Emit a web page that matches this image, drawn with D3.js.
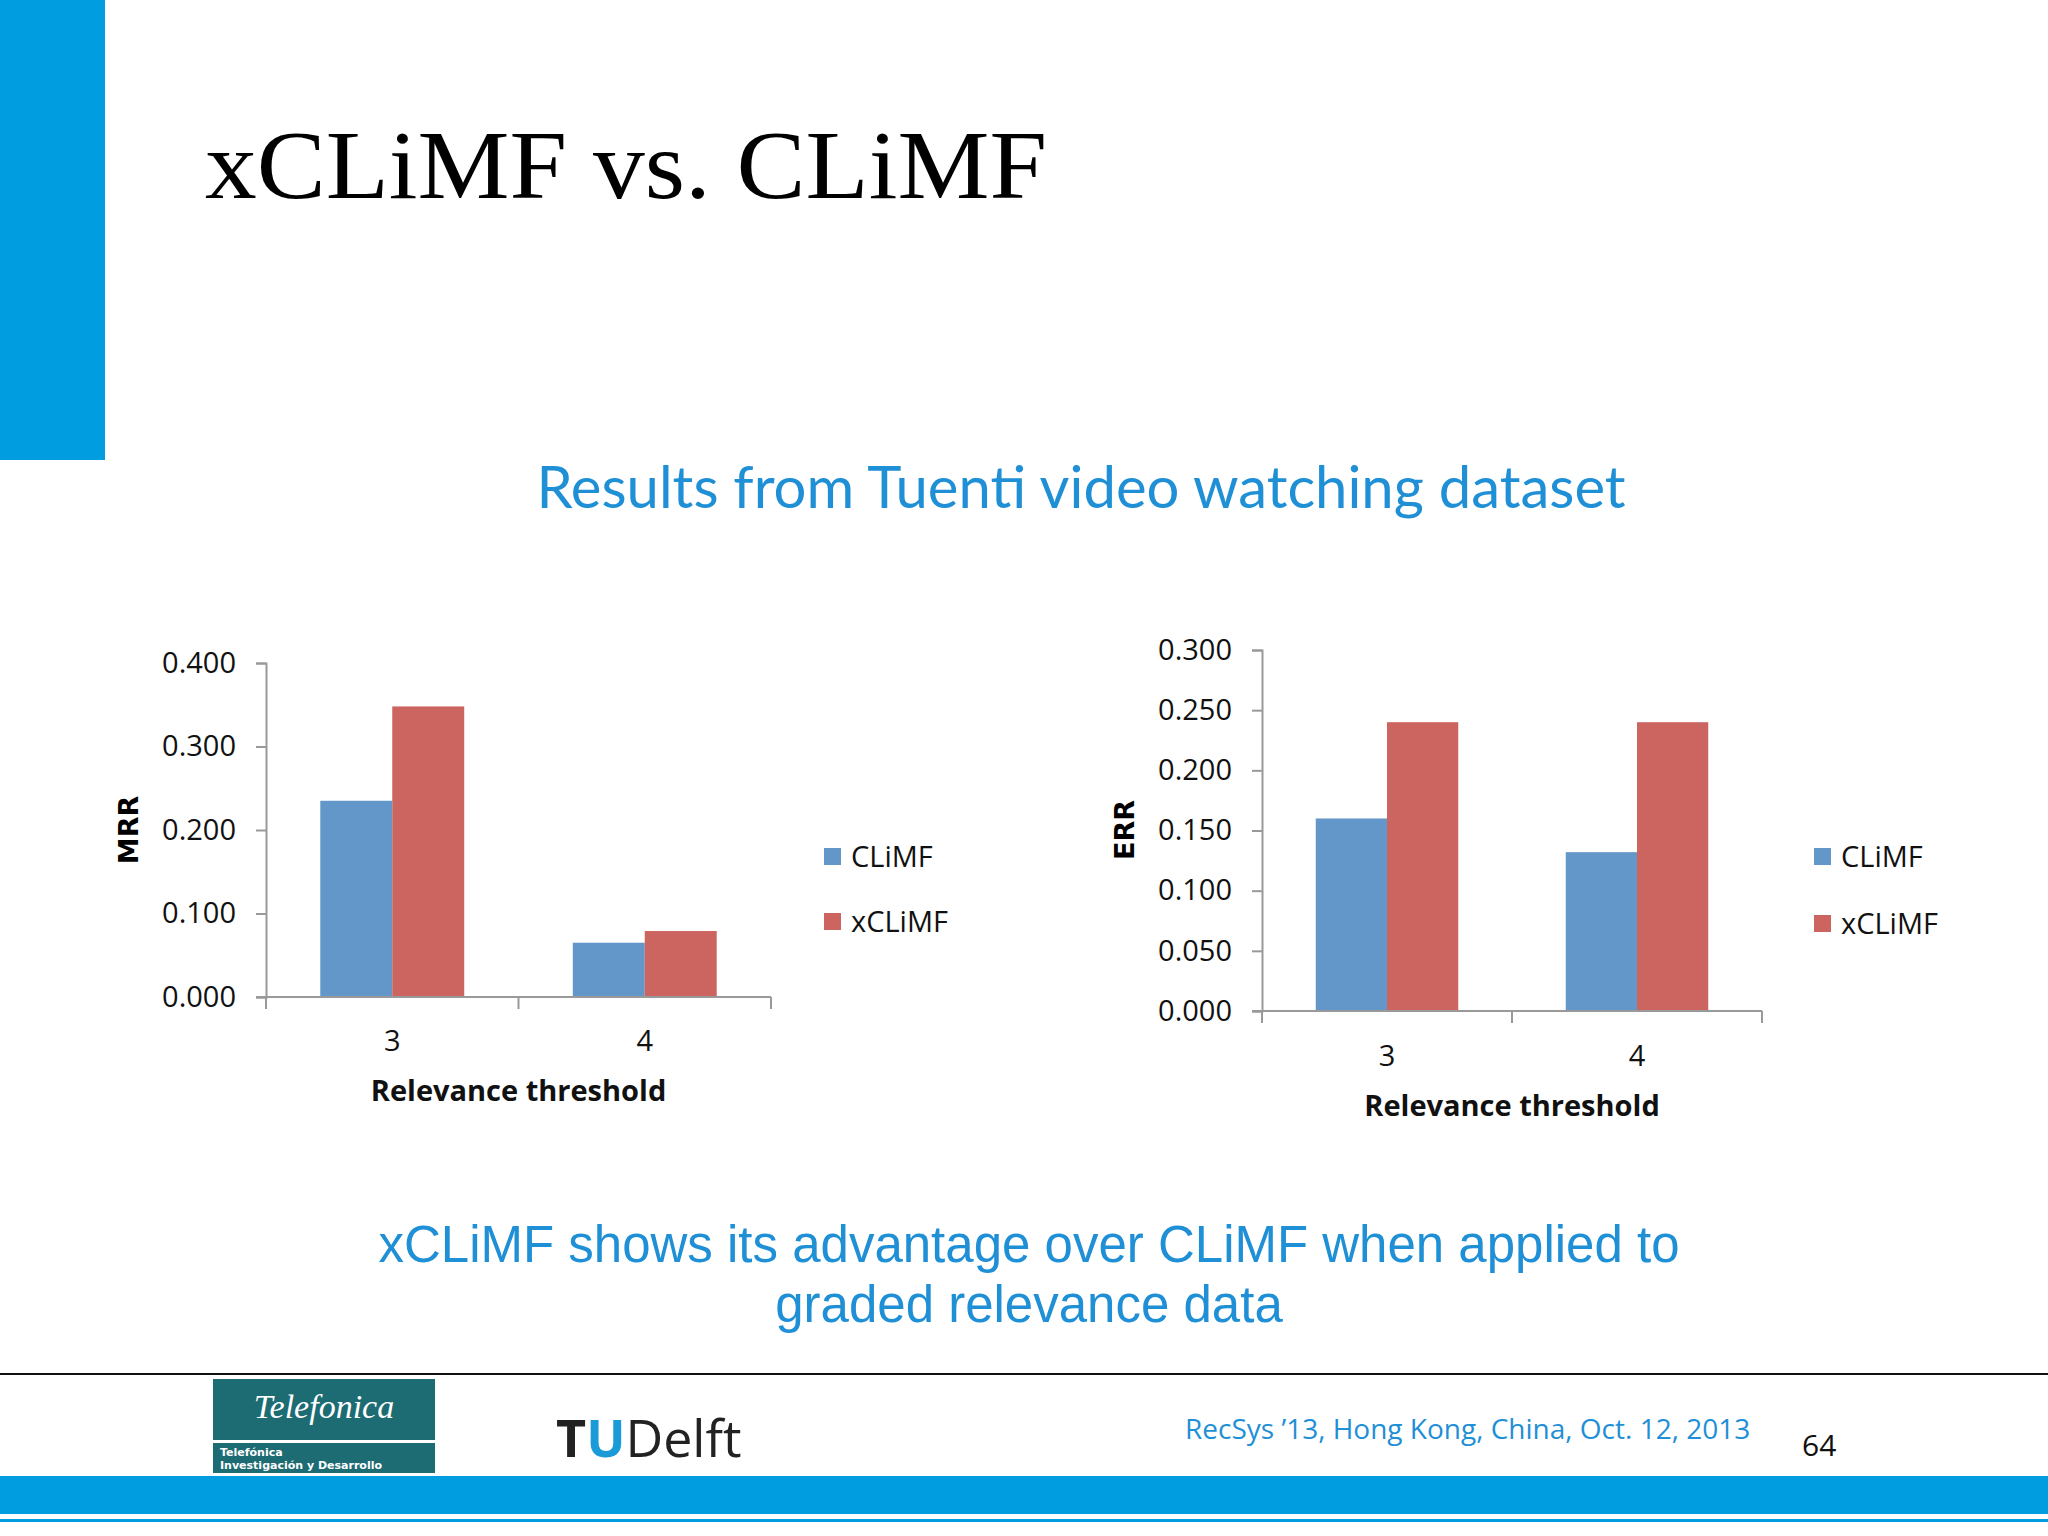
<!DOCTYPE html>
<html>
<head>
<meta charset="utf-8">
<script src="https://cdn.jsdelivr.net/npm/d3@7"></script>
<style>
  body { margin: 0; background: #fff; }
  svg { display: block; }
</style>
</head>
<body>
<svg id="slide" width="2048" height="1536"></svg>
<script>
// chart data
var categories = ["3", "4"];
var seriesNames = ["CLiMF", "xCLiMF"];
var mrrValues = [[0.235, 0.065], [0.348, 0.079]];
var errValues = [[0.160, 0.132], [0.240, 0.240]];
var mrrTicks = [0, 0.1, 0.2, 0.3, 0.4];
var errTicks = [0, 0.05, 0.1, 0.15, 0.2, 0.25, 0.3];
var colors = ["#6397ca", "#cc6460"];

var svg = d3.select("#slide");
var labelFont = "'Open Sans', Calibri, sans-serif";

// slide decoration
svg.append("rect").attr("x", 0).attr("y", 0).attr("width", 105).attr("height", 460).attr("fill", "#009ee0");
svg.append("text").attr("x", 205).attr("y", 198)
  .attr("textLength", 842).attr("lengthAdjust", "spacingAndGlyphs")
  .style("font-family", "'Liberation Serif', 'DejaVu Serif', serif").style("font-size", "98px")
  .text("xCLiMF vs. CLiMF");
svg.append("text").attr("x", 1081).attr("y", 508).attr("text-anchor", "middle")
  .style("font-family", "Lato, 'Open Sans', sans-serif").style("font-size", "58px").attr("fill", "#1f8fd6")
  .text("Results from Tuenti video watching dataset");

function drawChart(opts) {
  var y = d3.scaleLinear().domain([0, d3.max(opts.ticks)]).range([opts.y0, opts.y1]);
  var x = d3.scaleBand().domain(categories).range([opts.x0, opts.x1]).paddingInner(0.43).paddingOuter(0.215);
  var xs = d3.scaleBand().domain(seriesNames).range([0, x.bandwidth()]);
  var g = svg.append("g");

  var yAxis = g.append("g").attr("transform", "translate(" + opts.x0 + ",0)")
    .call(d3.axisLeft(y).tickValues(opts.ticks).tickFormat(d3.format(".3f")).tickSize(10).tickPadding(20));
  yAxis.select(".domain").attr("stroke", "#999").attr("stroke-width", 2);
  yAxis.selectAll("line").attr("stroke", "#999").attr("stroke-width", 2);
  yAxis.selectAll("text").style("font-family", labelFont).style("font-size", "29px").attr("fill", "#111");

  opts.values.forEach(function(vals, s) {
    g.selectAll(null).data(vals).enter().append("rect")
      .attr("x", function(d, i) { return x(categories[i]) + xs(seriesNames[s]); })
      .attr("y", function(d) { return y(d); })
      .attr("width", xs.bandwidth())
      .attr("height", function(d) { return opts.y0 - y(d); })
      .attr("fill", colors[s]);
  });

  // x axis line with ticks at band boundaries
  g.append("line").attr("x1", opts.x0 - 10).attr("x2", opts.x1).attr("y1", opts.y0).attr("y2", opts.y0)
    .attr("stroke", "#999").attr("stroke-width", 2);
  [opts.x0, (opts.x0 + opts.x1) / 2, opts.x1].forEach(function(t) {
    g.append("line").attr("x1", t).attr("x2", t).attr("y1", opts.y0).attr("y2", opts.y0 + 12)
      .attr("stroke", "#999").attr("stroke-width", 2);
  });
  g.selectAll(null).data(categories).enter().append("text")
    .attr("x", function(d) { return x(d) + x.bandwidth() / 2; })
    .attr("y", opts.catY).attr("text-anchor", "middle")
    .style("font-family", labelFont).style("font-size", "29px").attr("fill", "#111")
    .text(function(d) { return d; });
  g.append("text").attr("x", (opts.x0 + opts.x1) / 2).attr("y", opts.titleY).attr("text-anchor", "middle")
    .style("font-family", labelFont).style("font-size", "29px").style("font-weight", "bold").attr("fill", "#111")
    .text("Relevance threshold");
  g.append("text").attr("transform", "translate(" + opts.labX + "," + opts.labY + ") rotate(-90)")
    .attr("text-anchor", "middle")
    .style("font-family", "'DejaVu Sans', sans-serif").style("font-size", "27px").style("font-weight", "bold")
    .text(opts.label);

  // legend
  seriesNames.forEach(function(name, s) {
    var ly = opts.legY[s];
    g.append("rect").attr("x", opts.legX).attr("y", ly - 9).attr("width", 17).attr("height", 17).attr("fill", colors[s]);
    g.append("text").attr("x", opts.legX + 27).attr("y", ly + 10)
      .style("font-family", labelFont).style("font-size", "29px").attr("fill", "#111").text(name);
  });
}

drawChart({ values: mrrValues, ticks: mrrTicks, x0: 266, x1: 771, y0: 997, y1: 663,
  catY: 1051, titleY: 1101, label: "MRR", labX: 138, labY: 830, legX: 824, legY: [857, 922] });
drawChart({ values: errValues, ticks: errTicks, x0: 1262, x1: 1762, y0: 1011, y1: 650,
  catY: 1066, titleY: 1116, label: "ERR", labX: 1134, labY: 830, legX: 1814, legY: [857, 924] });

// conclusion text
var concl = ["xCLiMF shows its advantage over CLiMF when applied to", "graded relevance data"];
svg.selectAll(null).data(concl).enter().append("text")
  .attr("x", 1029).attr("y", function(d, i) { return 1262 + i * 60; }).attr("text-anchor", "middle")
  .style("font-family", "'Liberation Sans', Arial, sans-serif").style("font-size", "51px").attr("fill", "#1f8fd6")
  .text(function(d) { return d; });

// footer
svg.append("line").attr("x1", 0).attr("x2", 2048).attr("y1", 1374).attr("y2", 1374).attr("stroke", "#111").attr("stroke-width", 2);
svg.append("rect").attr("x", 0).attr("y", 1476).attr("width", 2048).attr("height", 38).attr("fill", "#009ee0");
svg.append("rect").attr("x", 0).attr("y", 1519).attr("width", 2048).attr("height", 3).attr("fill", "#009ee0");
svg.append("rect").attr("x", 213).attr("y", 1379).attr("width", 222).attr("height", 94).attr("fill", "#1d6b73");
svg.append("rect").attr("x", 213).attr("y", 1440).attr("width", 222).attr("height", 3).attr("fill", "#fff");
svg.append("text").attr("x", 324).attr("y", 1418).attr("text-anchor", "middle")
  .style("font-family", "'Liberation Serif', serif").style("font-style", "italic").style("font-size", "34px").attr("fill", "#fff")
  .text("Telefonica");
svg.append("text").attr("x", 220).attr("y", 1456)
  .style("font-family", "'DejaVu Sans', sans-serif").style("font-weight", "bold").style("font-size", "11px").attr("fill", "#fff")
  .text("Telefónica");
svg.append("text").attr("x", 220).attr("y", 1469)
  .style("font-family", "'DejaVu Sans', sans-serif").style("font-weight", "bold").style("font-size", "11px").attr("fill", "#fff")
  .text("Investigación y Desarrollo");
svg.append("text").attr("x", 556).attr("y", 1457)
  .style("font-family", "'Open Sans', sans-serif").style("font-size", "52px").attr("fill", "#222")
  .html("<tspan font-weight='bold'>T</tspan><tspan fill='#1a9ad6' font-weight='bold'>U</tspan>Delft");
svg.append("text").attr("x", 1185).attr("y", 1439)
  .style("font-family", "'Open Sans', sans-serif").style("font-size", "28px").attr("fill", "#1f8fd6")
  .text("RecSys ’13, Hong Kong, China, Oct. 12, 2013");
svg.append("text").attr("x", 1802).attr("y", 1456)
  .style("font-family", "'Open Sans', sans-serif").style("font-size", "30px").attr("fill", "#111")
  .text("64");
</script>
</body>
</html>
